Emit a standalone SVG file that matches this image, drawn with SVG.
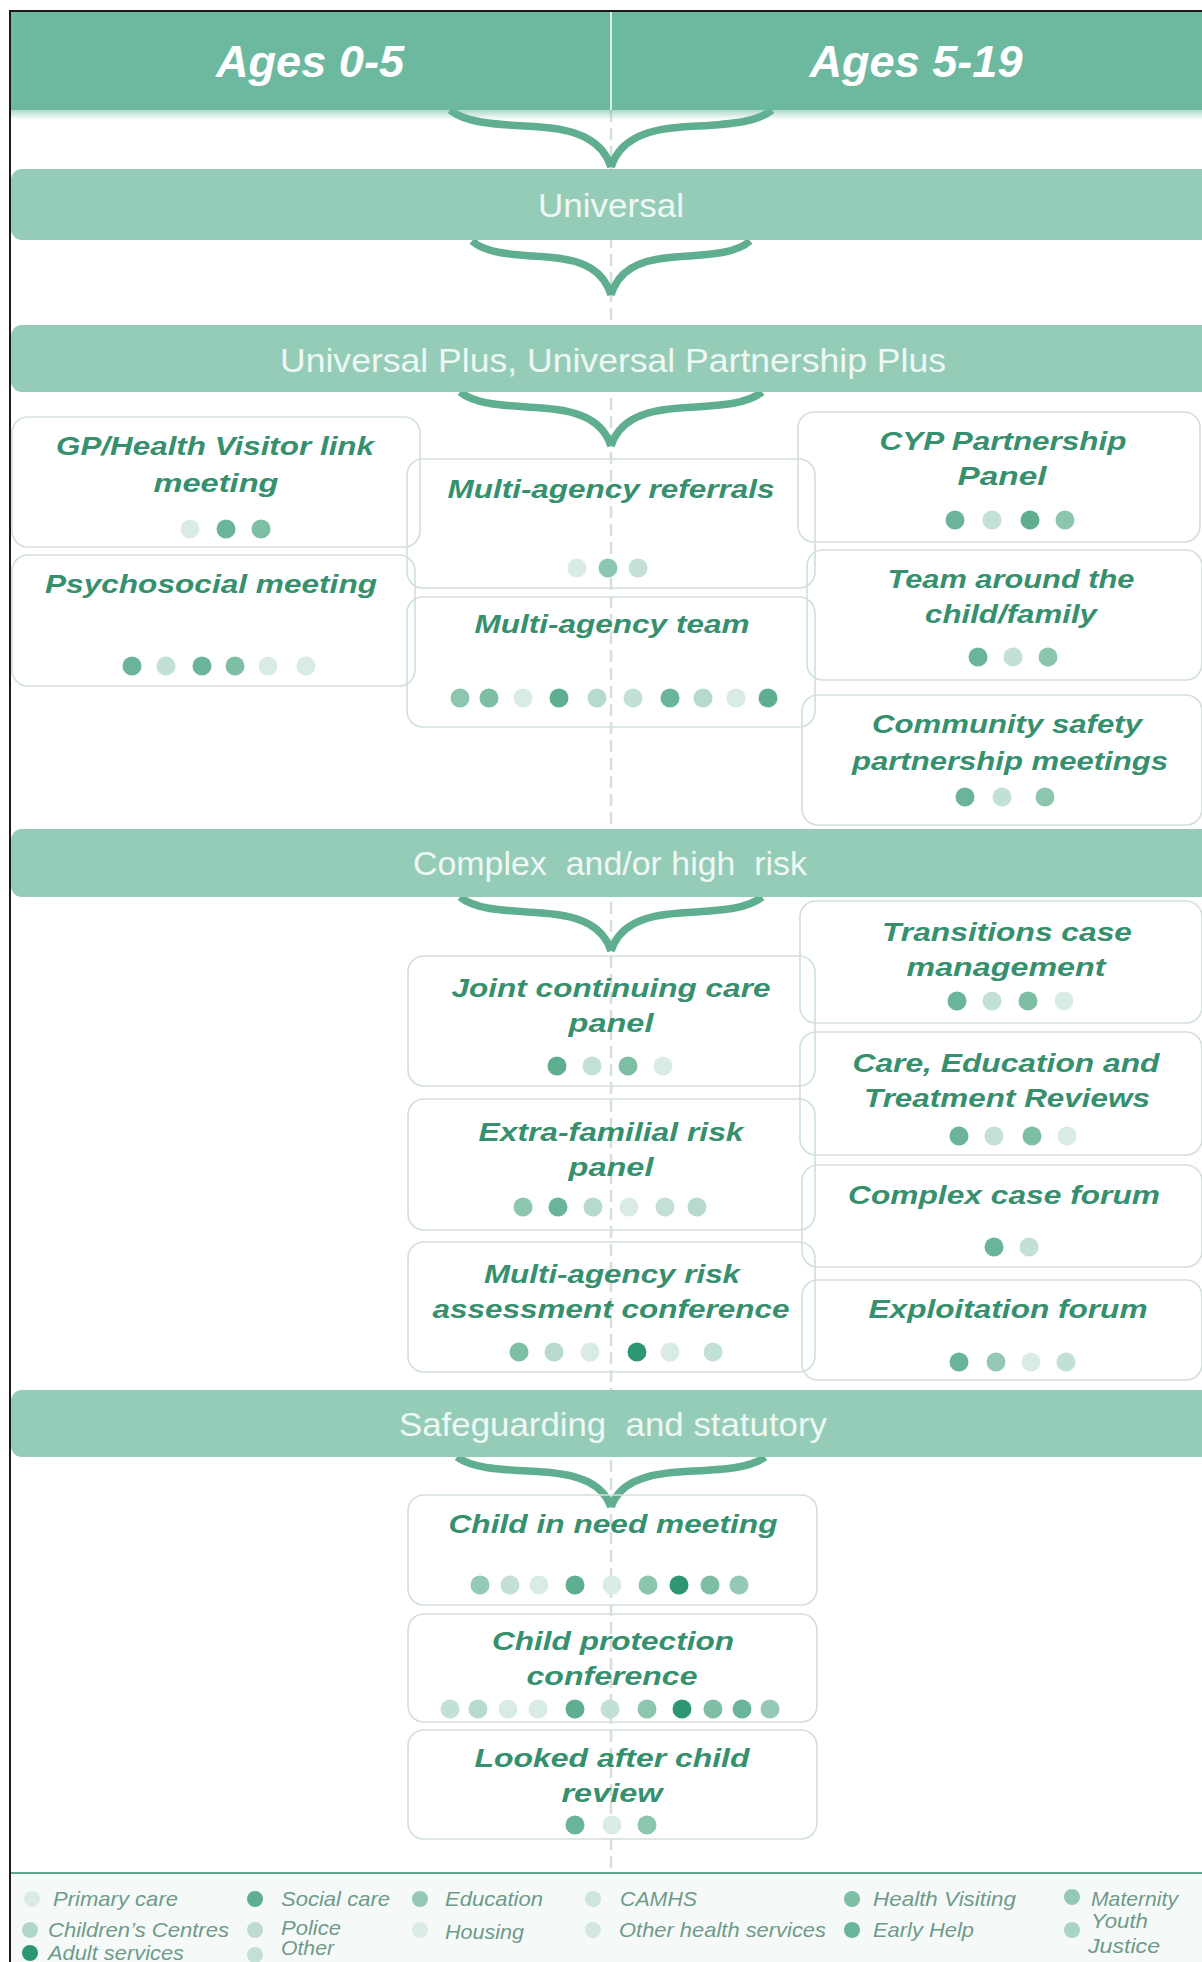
<svg xmlns="http://www.w3.org/2000/svg" width="1202" height="1962" viewBox="0 0 1202 1962">
<style>
.hdr{fill:#6db9a0}
.bar{fill:#95ccb7}
.htxt{font-family:"Liberation Sans",Arial,sans-serif;font-weight:bold;font-style:italic;font-size:45px;fill:#ffffff;text-anchor:middle}
.btxt{font-family:"Liberation Sans",Arial,sans-serif;font-size:33px;fill:#eef8f4;text-anchor:middle;white-space:pre}
.box{fill:none;stroke:#d3dfd9;stroke-width:1.6}
.t{font-family:"Liberation Sans",Arial,sans-serif;font-weight:bold;font-style:italic;font-size:26px;fill:#36906e;text-anchor:middle}
.lg{font-family:"Liberation Sans",Arial,sans-serif;font-style:italic;font-size:21px;fill:#6f9a8a}
.brace{fill:none;stroke:#5fae90;stroke-width:7.5}
.d1{fill:#2f9672}.d2{fill:#5fae90}.d2b{fill:#6ab49a}.d3{fill:#7dbea5}.d3b{fill:#8cc6af}.d3c{fill:#94cab5}.d4{fill:#b6dbcc}.d4b{fill:#c3e0d4}.d5{fill:#d8ece4}
</style>
<defs>
<linearGradient id="shadow" x1="0" y1="0" x2="0" y2="1">
<stop offset="0" stop-color="#6db9a0" stop-opacity="0.55"/>
<stop offset="1" stop-color="#6db9a0" stop-opacity="0"/>
</linearGradient>
</defs>
<rect x="0" y="0" width="1202" height="1962" fill="#ffffff"/>
<rect x="10" y="1873" width="1192" height="89" fill="#f5faf8"/>
<line x1="611" y1="110" x2="611" y2="1872" stroke="#d5e0db" stroke-width="2.5" stroke-dasharray="12 6"/>

<g id="connectors">
<path class="brace" d="M450,110 C467.7,124.3 499.9,124.3 540.2,127.1 C580.4,130 603,141.9 611,167 M772,110 C754.3,124.3 722.1,124.3 681.8,127.1 C641.6,130 619,141.9 611,167"/>
<path class="brace" d="M472,241 C487.3,254.5 515.1,254.5 549.8,257.2 C584.6,259.9 604,271.2 611,295 M750,241 C734.7,254.5 706.9,254.5 672.2,257.2 C637.4,259.9 618,271.2 611,295"/>
<path class="brace" d="M460,392 C476.6,405.5 506.8,405.5 544.6,408.2 C582.3,410.9 603.5,422.2 611,446 M762,392 C745.4,405.5 715.2,405.5 677.4,408.2 C639.7,410.9 618.5,422.2 611,446"/>
<path class="brace" d="M460,897 C476.6,910.5 506.8,910.5 544.6,913.2 C582.3,915.9 603.5,927.2 611,951 M762,897 C745.4,910.5 715.2,910.5 677.4,913.2 C639.7,915.9 618.5,927.2 611,951"/>
<path class="brace" d="M457,1457 C474,1469.5 504.7,1469.5 543.2,1472 C581.7,1474.5 603.3,1485 611,1507 M765,1457 C748,1469.5 717.3,1469.5 678.8,1472 C640.3,1474.5 618.7,1485 611,1507"/>
</g>

<g id="header">
<rect class="hdr" x="10" y="11" width="1200" height="99"/>
<rect x="10" y="110" width="1192" height="10" fill="url(#shadow)"/>
<line x1="611" y1="12" x2="611" y2="110" stroke="#d9efe6" stroke-width="2"/>
<text class="htxt" x="310" y="77" textLength="188" lengthAdjust="spacingAndGlyphs">Ages 0-5</text>
<text class="htxt" x="916" y="77" textLength="213" lengthAdjust="spacingAndGlyphs">Ages 5-19</text>
</g>

<g id="bar-universal">
<rect class="bar" x="11" y="169" width="1210" height="71" rx="11"/>
<text class="btxt" x="611" y="217" textLength="146" lengthAdjust="spacingAndGlyphs">Universal</text>
</g>
<g id="bar-universal-plus">
<rect class="bar" x="11" y="325" width="1210" height="67" rx="11"/>
<text class="btxt" x="613" y="372" textLength="666" lengthAdjust="spacingAndGlyphs">Universal Plus, Universal Partnership Plus</text>
</g>
<g id="bar-complex">
<rect class="bar" x="11" y="829" width="1210" height="68" rx="11"/>
<text class="btxt" x="610" y="875" textLength="394" lengthAdjust="spacingAndGlyphs">Complex  and/or high  risk</text>
</g>
<g id="bar-safeguarding">
<rect class="bar" x="11" y="1390" width="1210" height="67" rx="11"/>
<text class="btxt" x="613" y="1436" textLength="428" lengthAdjust="spacingAndGlyphs">Safeguarding  and statutory</text>
</g>

<g id="gp-hv-link">
<rect class="box" x="12" y="417" width="408" height="130" rx="16"/>
<text class="t" x="215" y="455" textLength="318" lengthAdjust="spacingAndGlyphs">GP/Health Visitor link</text>
<text class="t" x="216" y="492" textLength="125" lengthAdjust="spacingAndGlyphs">meeting</text>
<circle class="d5" cx="190" cy="529" r="9.5"/><circle class="d2b" cx="226" cy="529" r="9.5"/><circle class="d3" cx="261" cy="529" r="9.5"/>
</g>
<g id="psychosocial">
<rect class="box" x="12" y="555" width="403" height="131" rx="16"/>
<text class="t" x="211" y="593" textLength="332" lengthAdjust="spacingAndGlyphs">Psychosocial meeting</text>
<circle class="d2b" cx="132" cy="666" r="9.5"/><circle class="d4b" cx="166" cy="666" r="9.5"/><circle class="d2b" cx="202" cy="666" r="9.5"/><circle class="d3" cx="235" cy="666" r="9.5"/><circle class="d5" cx="268" cy="666" r="9.5"/><circle class="d5" cx="306" cy="666" r="9.5"/>
</g>
<g id="multi-agency-referrals">
<rect class="box" x="407" y="459" width="408" height="129" rx="16"/>
<text class="t" x="611" y="498" textLength="327" lengthAdjust="spacingAndGlyphs">Multi-agency referrals</text>
<circle class="d5" cx="577" cy="568" r="9.5"/><circle class="d3b" cx="608" cy="568" r="9.5"/><circle class="d4b" cx="638" cy="568" r="9.5"/>
</g>
<g id="multi-agency-team">
<rect class="box" x="407" y="597" width="408" height="130" rx="16"/>
<text class="t" x="612" y="633" textLength="275" lengthAdjust="spacingAndGlyphs">Multi-agency team</text>
<circle class="d3b" cx="460" cy="698" r="9.5"/><circle class="d3" cx="489" cy="698" r="9.5"/><circle class="d5" cx="523" cy="698" r="9.5"/><circle class="d2" cx="559" cy="698" r="9.5"/><circle class="d4" cx="597" cy="698" r="9.5"/><circle class="d4b" cx="633" cy="698" r="9.5"/><circle class="d2b" cx="670" cy="698" r="9.5"/><circle class="d4" cx="703" cy="698" r="9.5"/><circle class="d5" cx="736" cy="698" r="9.5"/><circle class="d2" cx="768" cy="698" r="9.5"/>
</g>
<g id="cyp-partnership-panel">
<rect class="box" x="798" y="412" width="402" height="130" rx="16"/>
<text class="t" x="1003" y="450" textLength="247" lengthAdjust="spacingAndGlyphs">CYP Partnership</text>
<text class="t" x="1002" y="485" textLength="89" lengthAdjust="spacingAndGlyphs">Panel</text>
<circle class="d2b" cx="955" cy="520" r="9.5"/><circle class="d4b" cx="992" cy="520" r="9.5"/><circle class="d2" cx="1030" cy="520" r="9.5"/><circle class="d3b" cx="1065" cy="520" r="9.5"/>
</g>
<g id="team-around-child">
<rect class="box" x="807" y="550" width="395" height="130" rx="16"/>
<text class="t" x="1011" y="588" textLength="247" lengthAdjust="spacingAndGlyphs">Team around the</text>
<text class="t" x="1011" y="623" textLength="172" lengthAdjust="spacingAndGlyphs">child/family</text>
<circle class="d2b" cx="978" cy="657" r="9.5"/><circle class="d4b" cx="1013" cy="657" r="9.5"/><circle class="d3b" cx="1048" cy="657" r="9.5"/>
</g>
<g id="community-safety">
<rect class="box" x="802" y="695" width="400" height="130" rx="16"/>
<text class="t" x="1007" y="733" textLength="270" lengthAdjust="spacingAndGlyphs">Community safety</text>
<text class="t" x="1010" y="770" textLength="316" lengthAdjust="spacingAndGlyphs">partnership meetings</text>
<circle class="d2b" cx="965" cy="797" r="9.5"/><circle class="d4b" cx="1002" cy="797" r="9.5"/><circle class="d3b" cx="1045" cy="797" r="9.5"/>
</g>
<g id="joint-continuing-care">
<rect class="box" x="408" y="956" width="407" height="130" rx="16"/>
<text class="t" x="611" y="997" textLength="319" lengthAdjust="spacingAndGlyphs">Joint continuing care</text>
<text class="t" x="611" y="1032" textLength="85" lengthAdjust="spacingAndGlyphs">panel</text>
<circle class="d2" cx="557" cy="1066" r="9.5"/><circle class="d4b" cx="592" cy="1066" r="9.5"/><circle class="d3" cx="628" cy="1066" r="9.5"/><circle class="d5" cx="663" cy="1066" r="9.5"/>
</g>
<g id="extra-familial-risk">
<rect class="box" x="408" y="1099" width="407" height="131" rx="16"/>
<text class="t" x="611" y="1141" textLength="265" lengthAdjust="spacingAndGlyphs">Extra-familial risk</text>
<text class="t" x="611" y="1176" textLength="85" lengthAdjust="spacingAndGlyphs">panel</text>
<circle class="d3b" cx="523" cy="1207" r="9.5"/><circle class="d2b" cx="558" cy="1207" r="9.5"/><circle class="d4" cx="593" cy="1207" r="9.5"/><circle class="d5" cx="629" cy="1207" r="9.5"/><circle class="d4b" cx="665" cy="1207" r="9.5"/><circle class="d4" cx="697" cy="1207" r="9.5"/>
</g>
<g id="marac">
<rect class="box" x="408" y="1242" width="407" height="130" rx="16"/>
<text class="t" x="612" y="1283" textLength="256" lengthAdjust="spacingAndGlyphs">Multi-agency risk</text>
<text class="t" x="611" y="1318" textLength="357" lengthAdjust="spacingAndGlyphs">assessment conference</text>
<circle class="d3" cx="519" cy="1352" r="9.5"/><circle class="d4" cx="554" cy="1352" r="9.5"/><circle class="d5" cx="590" cy="1352" r="9.5"/><circle class="d1" cx="637" cy="1352" r="9.5"/><circle class="d5" cx="670" cy="1352" r="9.5"/><circle class="d4b" cx="713" cy="1352" r="9.5"/>
</g>
<g id="transitions">
<rect class="box" x="800" y="901" width="402" height="122" rx="16"/>
<text class="t" x="1007" y="941" textLength="250" lengthAdjust="spacingAndGlyphs">Transitions case</text>
<text class="t" x="1006" y="976" textLength="199" lengthAdjust="spacingAndGlyphs">management</text>
<circle class="d2b" cx="957" cy="1001" r="9.5"/><circle class="d4b" cx="992" cy="1001" r="9.5"/><circle class="d3" cx="1028" cy="1001" r="9.5"/><circle class="d5" cx="1064" cy="1001" r="9.5"/>
</g>
<g id="cetr">
<rect class="box" x="800" y="1032" width="402" height="123" rx="16"/>
<text class="t" x="1006" y="1072" textLength="307" lengthAdjust="spacingAndGlyphs">Care, Education and</text>
<text class="t" x="1007" y="1107" textLength="286" lengthAdjust="spacingAndGlyphs">Treatment Reviews</text>
<circle class="d2b" cx="959" cy="1136" r="9.5"/><circle class="d4b" cx="994" cy="1136" r="9.5"/><circle class="d3" cx="1032" cy="1136" r="9.5"/><circle class="d5" cx="1067" cy="1136" r="9.5"/>
</g>
<g id="complex-case-forum">
<rect class="box" x="802" y="1165" width="400" height="102" rx="16"/>
<text class="t" x="1004" y="1204" textLength="312" lengthAdjust="spacingAndGlyphs">Complex case forum</text>
<circle class="d2b" cx="994" cy="1247" r="9.5"/><circle class="d4b" cx="1029" cy="1247" r="9.5"/>
</g>
<g id="exploitation-forum">
<rect class="box" x="802" y="1280" width="400" height="100" rx="16"/>
<text class="t" x="1008" y="1318" textLength="279" lengthAdjust="spacingAndGlyphs">Exploitation forum</text>
<circle class="d2b" cx="959" cy="1362" r="9.5"/><circle class="d3c" cx="996" cy="1362" r="9.5"/><circle class="d5" cx="1031" cy="1362" r="9.5"/><circle class="d4b" cx="1066" cy="1362" r="9.5"/>
</g>
<g id="child-in-need">
<rect class="box" x="408" y="1495" width="409" height="110" rx="16"/>
<text class="t" x="613" y="1533" textLength="329" lengthAdjust="spacingAndGlyphs">Child in need meeting</text>
<circle class="d3c" cx="480" cy="1585" r="9.5"/><circle class="d4b" cx="510" cy="1585" r="9.5"/><circle class="d5" cx="539" cy="1585" r="9.5"/><circle class="d2" cx="575" cy="1585" r="9.5"/><circle class="d5" cx="612" cy="1585" r="9.5"/><circle class="d3b" cx="648" cy="1585" r="9.5"/><circle class="d1" cx="679" cy="1585" r="9.5"/><circle class="d3" cx="710" cy="1585" r="9.5"/><circle class="d3c" cx="739" cy="1585" r="9.5"/>
</g>
<g id="child-protection">
<rect class="box" x="408" y="1614" width="409" height="108" rx="16"/>
<text class="t" x="613" y="1650" textLength="242" lengthAdjust="spacingAndGlyphs">Child protection</text>
<text class="t" x="612" y="1685" textLength="171" lengthAdjust="spacingAndGlyphs">conference</text>
<circle class="d4b" cx="450" cy="1709" r="9.5"/><circle class="d4" cx="478" cy="1709" r="9.5"/><circle class="d5" cx="508" cy="1709" r="9.5"/><circle class="d5" cx="538" cy="1709" r="9.5"/><circle class="d2" cx="575" cy="1709" r="9.5"/><circle class="d4b" cx="610" cy="1709" r="9.5"/><circle class="d3b" cx="647" cy="1709" r="9.5"/><circle class="d1" cx="682" cy="1709" r="9.5"/><circle class="d3" cx="713" cy="1709" r="9.5"/><circle class="d2b" cx="742" cy="1709" r="9.5"/><circle class="d3c" cx="770" cy="1709" r="9.5"/>
</g>
<g id="looked-after-child">
<rect class="box" x="408" y="1730" width="409" height="109" rx="16"/>
<text class="t" x="612" y="1767" textLength="275" lengthAdjust="spacingAndGlyphs">Looked after child</text>
<text class="t" x="612" y="1802" textLength="101" lengthAdjust="spacingAndGlyphs">review</text>
<circle class="d2b" cx="575" cy="1825" r="9.5"/><circle class="d5" cx="612" cy="1825" r="9.5"/><circle class="d3b" cx="647" cy="1825" r="9.5"/>
</g>

<g id="legend">
<line x1="10" y1="1873" x2="1202" y2="1873" stroke="#5fa990" stroke-width="2"/>
<circle cx="32" cy="1899" r="8" fill="#d8ece4"/><text class="lg" x="53" y="1906" textLength="125" lengthAdjust="spacingAndGlyphs">Primary care</text>
<circle cx="255" cy="1899" r="8" fill="#5fae90"/><text class="lg" x="281" y="1906" textLength="109" lengthAdjust="spacingAndGlyphs">Social care</text>
<circle cx="420" cy="1899" r="8" fill="#94cab5"/><text class="lg" x="445" y="1906" textLength="98" lengthAdjust="spacingAndGlyphs">Education</text>
<circle cx="593" cy="1899" r="8" fill="#cfe6dc"/><text class="lg" x="620" y="1906" textLength="77" lengthAdjust="spacingAndGlyphs">CAMHS</text>
<circle cx="852" cy="1899" r="8" fill="#7dbea5"/><text class="lg" x="873" y="1906" textLength="143" lengthAdjust="spacingAndGlyphs">Health Visiting</text>
<circle cx="1072" cy="1897" r="8" fill="#94cab5"/><text class="lg" x="1091" y="1906" textLength="87" lengthAdjust="spacingAndGlyphs">Maternity</text>
<circle cx="30" cy="1930" r="8" fill="#b0d8c8"/><text class="lg" x="48" y="1937" textLength="181" lengthAdjust="spacingAndGlyphs">Children’s Centres</text>
<circle cx="255" cy="1930" r="8" fill="#bcdccf"/><text class="lg" x="281" y="1935" textLength="60" lengthAdjust="spacingAndGlyphs">Police</text>
<circle cx="420" cy="1930" r="8" fill="#d8ece4"/><text class="lg" x="445" y="1939" textLength="79" lengthAdjust="spacingAndGlyphs">Housing</text>
<circle cx="593" cy="1930" r="8" fill="#d2e8df"/><text class="lg" x="619" y="1937" textLength="207" lengthAdjust="spacingAndGlyphs">Other health services</text>
<circle cx="852" cy="1930" r="8" fill="#6ab49a"/><text class="lg" x="873" y="1937" textLength="101" lengthAdjust="spacingAndGlyphs">Early Help</text>
<circle cx="1072" cy="1930" r="8" fill="#a8d4c3"/><text class="lg" x="1091" y="1928" textLength="57" lengthAdjust="spacingAndGlyphs">Youth</text><text class="lg" x="1088" y="1953" textLength="72" lengthAdjust="spacingAndGlyphs">Justice</text>
<circle cx="30" cy="1953" r="8" fill="#2f9672"/><text class="lg" x="48" y="1960" textLength="136" lengthAdjust="spacingAndGlyphs">Adult services</text>
<circle cx="255" cy="1955" r="8" fill="#c3e0d4"/><text class="lg" x="281" y="1955" textLength="53" lengthAdjust="spacingAndGlyphs">Other</text>
</g>

<path d="M10,1962 V11 H1202" fill="none" stroke="#1a1a1a" stroke-width="2"/>
</svg>
